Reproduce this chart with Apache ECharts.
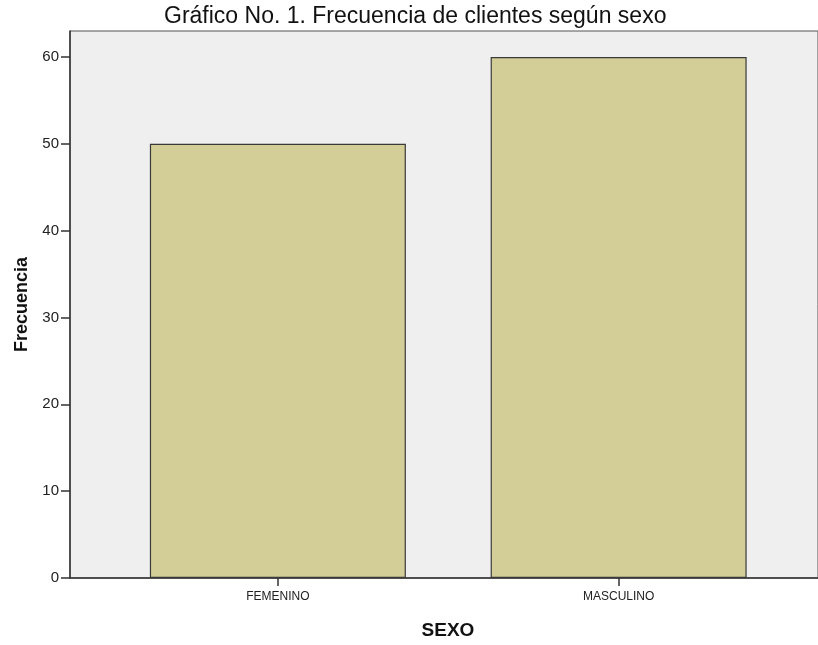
<!DOCTYPE html>
<html>
<head>
<meta charset="utf-8">
<script src="https://cdn.jsdelivr.net/npm/echarts@6/dist/echarts.min.js"></script>
<style>
  html, body { margin: 0; padding: 0; background: #fff; }
  #chart { width: 818px; height: 645px; }
</style>
</head>
<body>
<div id="chart"></div>
<script>
// datos
const categorias = ['FEMENINO', 'MASCULINO'];
const frecuencias = [50, 60];
const ticksY = [0, 10, 20, 30, 40, 50, 60];

const fuente = 'Arial, "Liberation Sans", sans-serif';

document.addEventListener('DOMContentLoaded', () => {
    const chart = echarts.init(document.getElementById('chart'));

    // posicion de cada barra = indice de la categoria en un eje de valores
    const posiciones = categorias.map((c, i) => i);
    const barras = posiciones.map((x, i) => [x, frecuencias[i]]);

    chart.setOption({
        animation: false,
        title: {
            text: 'Gráfico No. 1. Frecuencia de clientes según sexo',
            left: 159,
            top: 0,
            textStyle: { fontFamily: fuente, fontSize: 23, fontWeight: 'normal', color: '#111' }
        },
        grid: {
            left: 70, top: 31, right: 0, bottom: 64,
            show: true,
            backgroundColor: '#efefef',
            borderColor: '#555',
            borderWidth: 1
        },
        xAxis: {
            type: 'value',
            min: -0.61,
            max: 1.585,
            name: 'SEXO',
            nameLocation: 'middle',
            nameGap: 43,
            nameTextStyle: { fontFamily: fuente, fontSize: 19, fontWeight: 'bold', color: '#111', padding: [0, 0, 0, 8] },
            axisLine: { show: true, onZero: false, lineStyle: { color: '#333', width: 1.5 } },
            axisTick: { show: true, customValues: posiciones, length: 8, lineStyle: { color: '#333', width: 1.5 } },
            axisLabel: {
                customValues: posiciones,
                margin: 13,
                fontFamily: fuente,
                fontSize: 12,
                color: '#222',
                formatter: (v) => categorias[Math.round(v)]
            },
            splitLine: { show: false }
        },
        yAxis: {
            type: 'value',
            min: 0,
            max: 63,
            name: 'Frecuencia',
            nameLocation: 'middle',
            nameRotate: 90,
            nameGap: 36,
            nameTextStyle: { fontFamily: fuente, fontSize: 18, fontWeight: 'bold', color: '#111' },
            axisLine: { show: true, onZero: false, lineStyle: { color: '#333', width: 1.5 } },
            axisTick: { show: true, customValues: ticksY, length: 9, lineStyle: { color: '#333', width: 1.5 } },
            axisLabel: { customValues: ticksY, margin: 11, fontFamily: fuente, fontSize: 15, color: '#222' },
            splitLine: { show: false }
        },
        series: [{
            type: 'bar',
            data: barras,
            barWidth: 256,
            itemStyle: { color: '#d3cd97', borderColor: '#3a3a3a', borderWidth: 1.2 }
        }]
    });
});
</script>
</body>
</html>
